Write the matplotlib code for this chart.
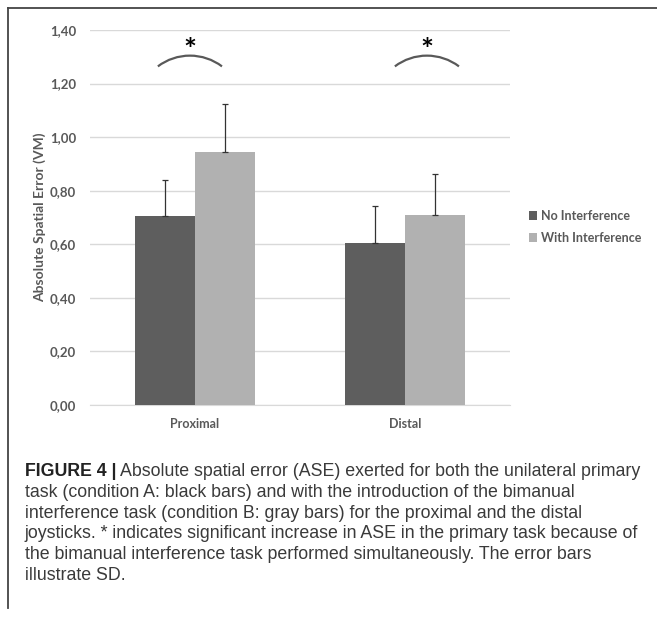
import numpy as np
import matplotlib.pyplot as plt
from matplotlib.patches import Arc
from matplotlib.lines import Line2D

categories = ['Proximal', 'Distal']
no_interf = [0.707, 0.604]
no_interf_sd = [0.133, 0.139]
with_interf = [0.943, 0.709]
with_interf_sd = [0.180, 0.152]
series_labels = ['No Interference', 'With Interference']
yticks = [0.0, 0.2, 0.4, 0.6, 0.8, 1.0, 1.2, 1.4]

caption_head = 'FIGURE 4 |'
caption_lines = [
    'Absolute spatial error (ASE) exerted for both the unilateral primary',
    'task (condition A: black bars) and with the introduction of the bimanual',
    'interference task (condition B: gray bars) for the proximal and the distal',
    'joysticks. * indicates significant increase in ASE in the primary task because of',
    'the bimanual interference task performed simultaneously. The error bars',
    'illustrate SD.',
]

dark = '#5e5e5e'
light = '#b1b1b1'
txt = '#595959'

plt.rcParams['font.family'] = ['Lato', 'DejaVu Sans']

fig = plt.figure(figsize=(6.57, 6.21), dpi=100)
ax = fig.add_axes([0.137, 0.3478, 0.639, 0.6039])

x = np.arange(len(categories))
w = 0.286
ax.bar(x - w / 2, no_interf, w, color=dark, label=series_labels[0], zorder=3)
ax.bar(x + w / 2, with_interf, w, color=light, label=series_labels[1], zorder=3)
ax.errorbar(x - w / 2, no_interf, yerr=[np.zeros(2), no_interf_sd], fmt='none',
            ecolor='#333333', elinewidth=0.9, capsize=2, capthick=0.9, zorder=4)
ax.errorbar(x + w / 2, with_interf, yerr=[np.zeros(2), with_interf_sd], fmt='none',
            ecolor='#333333', elinewidth=0.9, capsize=2, capthick=0.9, zorder=4)

ax.set_xlim(-0.5, 1.5)
ax.set_ylim(0, 1.4)
ax.set_yticks(yticks)
ax.set_yticklabels([f'{v:.2f}'.replace('.', ',') for v in yticks])
ax.set_xticks(x)
ax.set_xticklabels(categories)
ax.grid(axis='y', color='#d9d9d9', linewidth=1, zorder=0)
for s in ['top', 'right', 'left']:
    ax.spines[s].set_visible(False)
ax.spines['bottom'].set_color('#d9d9d9')
ax.tick_params(length=0, labelcolor=txt)
ax.tick_params(axis='y', labelsize=9.5, pad=10)
ax.tick_params(axis='x', labelsize=9, pad=9)
for lab in ax.get_xticklabels() + ax.get_yticklabels():
    lab.set_fontweight('bold')
ax.set_ylabel('Absolute Spatial Error (VM)', fontsize=10, fontweight='bold', color=txt, labelpad=3)

# significance arcs
for cx in [-0.024, 1.105]:
    ax.add_patch(Arc((cx, 1.106), 0.506, 0.3965, theta1=46, theta2=134,
                     color='#595959', linewidth=1.6, zorder=5))
    ax.text(cx, 1.32, '*', ha='center', va='center', fontsize=22, fontweight='bold',
            color='black')

ax.legend(loc='center left', bbox_to_anchor=(0.797, 0.635), bbox_transform=fig.transFigure,
          frameon=False, handlelength=0.7, handleheight=0.7, handletextpad=0.3,
          labelspacing=0.8, prop={'weight': 'bold', 'size': 9}, labelcolor=txt,
          borderaxespad=0)

# frame lines
fig.add_artist(Line2D([8 / 657, 8 / 657], [1 - 8 / 621, 1 - 608 / 621], color='#444444', linewidth=1.3))
fig.add_artist(Line2D([8 / 657, 1], [1 - 8 / 621, 1 - 8 / 621], color='#444444', linewidth=1.3))

# caption
fig.canvas.draw()
head = fig.text(25 / 657, 1 - 472 / 621, caption_head, fontsize=12.8, fontweight='bold',
                family='Liberation Sans', color='#222222', va='center')
r = fig.canvas.get_renderer()
bb = head.get_window_extent(r)
x0 = (bb.x1 + 4) / 657
for i, line in enumerate(caption_lines):
    fig.text(x0 if i == 0 else 25 / 657, 1 - (472 + i * 20.6) / 621, line, fontsize=12.8,
             family='Liberation Sans', color='#3a3a3a', va='center')

fig.savefig('out.png', dpi=100)
